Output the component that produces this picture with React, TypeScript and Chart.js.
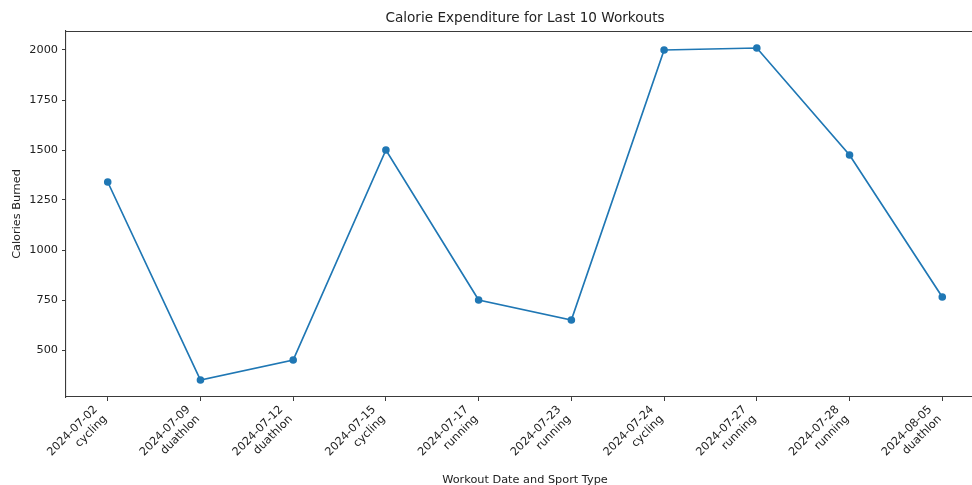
import React, { useEffect, useRef } from "react";
import { Chart, registerables } from "chart.js";

Chart.register(...registerables);

const dates = ["2024-07-02", "2024-07-09", "2024-07-12", "2024-07-15", "2024-07-17", "2024-07-23", "2024-07-24", "2024-07-27", "2024-07-28", "2024-08-05"];
const sports = ["cycling", "duathlon", "duathlon", "cycling", "running", "running", "cycling", "running", "running", "duathlon"];
const calories = [1340, 350, 450, 1500, 750, 650, 2000, 2010, 1475, 765];
const yTicks = [500, 750, 1000, 1250, 1500, 1750, 2000];
const chartTitle = "Calorie Expenditure for Last 10 Workouts";

const FONT = "'DejaVu Sans', sans-serif";
const TEXT = "#222222";
const SPINE = "#3a3a3a";

const frame = {
  id: "frame",
  afterDraw(chart: any) {
    const { ctx, chartArea } = chart;
    ctx.save();
    ctx.strokeStyle = SPINE;
    ctx.lineWidth = 1.1;
    ctx.beginPath();
    ctx.moveTo(chartArea.left, chartArea.top + 0.5);
    ctx.lineTo(chartArea.right, chartArea.top + 0.5);
    ctx.stroke();
    ctx.fillStyle = TEXT;
    ctx.font = `13.6px ${FONT}`;
    ctx.textAlign = "center";
    ctx.textBaseline = "middle";
    ctx.fillText(chartTitle, (chartArea.left + chartArea.right) / 2, 18.5);
    ctx.restore();
  },
};

export default function App() {
  const ref = useRef<HTMLCanvasElement>(null);
  useEffect(() => {
    if (!ref.current) return;
    const chart = new Chart(ref.current, {
      type: "line",
      data: {
        datasets: [
          {
            data: calories.map((v, i) => ({ x: i, y: v })),
            borderColor: "#1f77b4",
            backgroundColor: "#1f77b4",
            borderWidth: 1.7,
            pointRadius: 3.8,
            pointHoverRadius: 3.8,
            pointBorderWidth: 0,
            tension: 0,
          },
        ],
      },
      options: {
        animation: false,
        responsive: false,
        devicePixelRatio: 1,
        layout: { padding: { left: 6, right: 66, top: 31, bottom: 0 } },
        plugins: {
          legend: { display: false },
          tooltip: { enabled: false },
          title: { display: false },
        },
        scales: {
          x: {
            type: "linear",
            min: -0.45,
            max: 9.45,
            afterBuildTicks: (s: any) => {
              s.ticks = dates.map((_, i) => ({ value: i }));
            },
            afterFit: (s: any) => {
              s.height = 88;
            },
            ticks: {
              autoSkip: false,
              minRotation: 45,
              maxRotation: 45,
              labelOffset: -12,
              padding: 2,
              color: TEXT,
              font: { family: FONT, size: 11.3, lineHeight: 1.2 },
              callback: (v: any) => {
                const i = Math.round(Number(v));
                return [dates[i], sports[i]];
              },
            },
            grid: { display: true, drawOnChartArea: false, drawTicks: true, tickLength: 4, color: SPINE, lineWidth: 1 },
            border: { display: true, color: SPINE, width: 1.1 },
            title: {
              display: true,
              text: "Workout Date and Sport Type",
              color: TEXT,
              font: { family: FONT, size: 11.3, lineHeight: 1.2 },
              padding: { top: 0, bottom: -2 },
            },
          },
          y: {
            type: "linear",
            min: 265,
            max: 2095,
            afterBuildTicks: (s: any) => {
              s.ticks = yTicks.map((v) => ({ value: v }));
            },
            afterFit: (s: any) => {
              s.width = 60;
            },
            ticks: {
              padding: 4,
              color: TEXT,
              font: { family: FONT, size: 11.3 },
              callback: (v: any) => String(v),
            },
            grid: { display: true, drawOnChartArea: false, drawTicks: true, tickLength: 4, color: SPINE, lineWidth: 1 },
            border: { display: true, color: SPINE, width: 1.1 },
            title: {
              display: true,
              text: "Calories Burned",
              color: TEXT,
              font: { family: FONT, size: 11.3, lineHeight: 1.2 },
              padding: { top: 4, bottom: 4 },
            },
          },
        },
      },
      plugins: [frame],
    } as any);
    return () => chart.destroy();
  }, []);
  return (
    <div style={{ position: "fixed", left: 0, top: 0, width: 972, height: 485, overflow: "hidden", background: "#fff" }}>
      <canvas ref={ref} width={1050} height={485} style={{ display: "block", width: 1050, height: 485 }} />
    </div>
  );
}
